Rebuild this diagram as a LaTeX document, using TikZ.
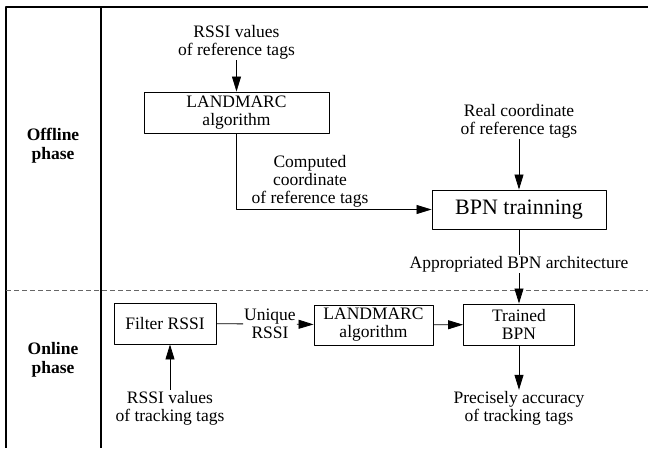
\documentclass[tikz,border=0pt]{standalone}
\usepackage{fontspec}
\setmainfont{Liberation Serif}
\usetikzlibrary{arrows.meta}
\begin{document}
\begin{tikzpicture}[x=1pt,y=-1pt,line join=round,>={Triangle[length=15pt,width=9pt]},
	font=\fontsize{17.5}{18}\selectfont,
	box/.style={draw,line width=0.9pt,align=center,inner sep=0pt},
	lbl/.style={align=center,inner sep=1pt},
	phase/.style={align=center,font=\fontsize{17.5}{19}\selectfont\bfseries},
	flow/.style={->,line width=0.8pt}]
	\useasboundingbox (0,0) rectangle (648,448);
	% frame and phase split
	\draw[line width=1.3pt] (648,7) -- (6,7) -- (6,448) (101,7) -- (101,448);
	\draw[gray!80!black,dash pattern=on 5pt off 3pt,line width=0.8pt] (6,290) -- (648,290);
	\node[phase] (offline) at (53,146) {Offline\\phase};
	\node[phase] (online) at (53,360) {Online\\phase};
	% offline phase
	\node[lbl] (rssiref) at (236.5,42) {RSSI values\\of reference tags};
	\node[box,minimum width=185pt,minimum height=41pt] (lm1) at (236.5,112.5) {LANDMARC\\algorithm};
	\node[lbl] (computed) at (310,181) {Computed\\coordinate\\of reference tags};
	\node[lbl] (realref) at (519,121) {Real coordinate\\of reference tags};
	\node[box,minimum width=174pt,minimum height=39pt,font=\fontsize{22}{24}\selectfont] (bpn) at (519,209.5) {BPN trainning};
	\node[lbl] (appro) at (519,264) {Appropriated BPN architecture};
	\draw[flow] (rssiref) -- (lm1);
	\draw[flow] (lm1.south) |- (bpn.west);
	\draw[flow] (realref) -- (bpn);
	\draw[line width=0.8pt] (bpn) -- (appro);
	% online phase
	\node[box,minimum width=102pt,minimum height=41pt] (filter) at (165,323.5) {Filter RSSI};
	\node[lbl] (unique) at (270,324) {Unique\\RSSI};
	\node[box,minimum width=119pt,minimum height=40pt] (lm2) at (373.5,325) {LANDMARC\\algorithm};
	\node[box,minimum width=111pt,minimum height=41pt] (trained) at (519,324.5) {Trained\\BPN};
	\node[lbl] (rssitrack) at (170,408) {RSSI values\\of tracking tags};
	\node[lbl] (precise) at (519,408) {Precisely accuracy\\of tracking tags};
	\draw[flow] (appro) -- (trained);
	\draw[line width=0.8pt] (filter) -- (unique);
	\draw[flow] (unique) -- (lm2);
	\draw[flow] (lm2) -- (trained);
	\draw[flow] (rssitrack.north) -- (rssitrack.north |- filter.south);
	\draw[flow] (trained) -- (precise);
\end{tikzpicture}
\end{document}
